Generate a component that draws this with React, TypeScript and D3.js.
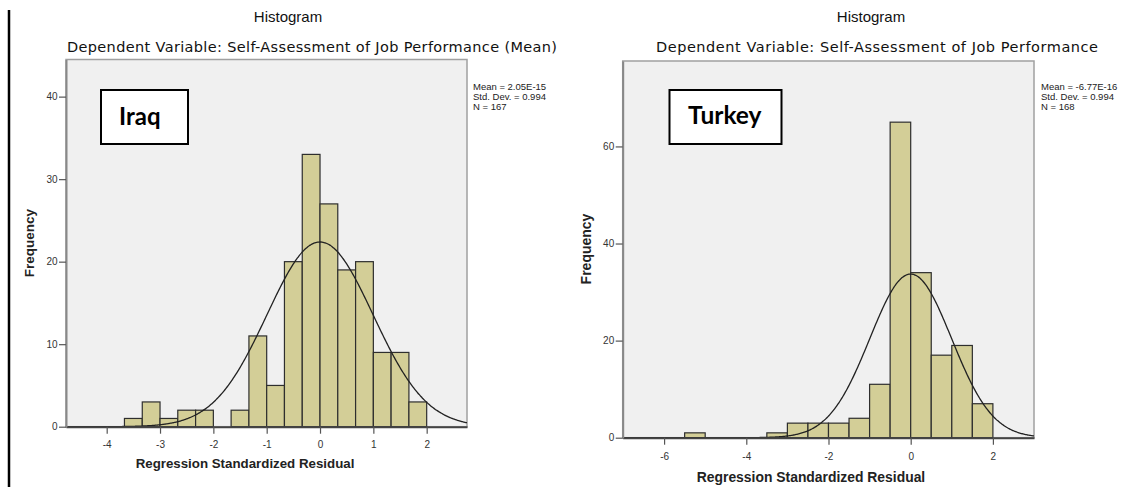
import * as React from 'react';
import { useEffect, useRef } from 'react';
import * as d3 from 'd3';

// Iraq: regression standardized residuals, bins of 1/3
const iraqEdges = [-3.667, -3.333, -3, -2.667, -2.333, -2, -1.667, -1.333, -1, -0.667, -0.333, 0, 0.333, 0.667, 1, 1.333, 1.667, 2];
const iraqCounts = [1, 3, 1, 2, 2, 0, 2, 11, 5, 20, 33, 27, 19, 20, 9, 9, 3];
const iraqStats = ['Mean = 2.05E-15', 'Std. Dev. = 0.994', 'N = 167'];
const iraqXTicks = [-4, -3, -2, -1, 0, 1, 2];
const iraqYTicks = [0, 10, 20, 30, 40];

// Turkey: bins of 0.5
const turkeyEdges = [-5.5, -5, -4.5, -4, -3.5, -3, -2.5, -2, -1.5, -1, -0.5, 0, 0.5, 1, 1.5, 2];
const turkeyCounts = [1, 0, 0, 0, 1, 3, 3, 3, 4, 11, 65, 34, 17, 19, 7];
const turkeyStats = ['Mean = -6.77E-16', 'Std. Dev. = 0.994', 'N = 168'];
const turkeyXTicks = [-6, -4, -2, 0, 2];
const turkeyYTicks = [0, 20, 40, 60];

const TITLE = 'Histogram';
const X_TITLE = 'Regression Standardized Residual';
const Y_TITLE = 'Frequency';

const BAR_FILL = '#d3ce97';
const PLOT_BG = '#f0f0f0';
const FONT = 'Arial, "Liberation Sans", sans-serif';

interface Panel {
  name: string;
  subtitle: string;
  stats: string[];
  edges: number[];
  counts: number[];
  xTicks: number[];
  yTicks: number[];
  mean: number;
  sd: number;
  n: number;
  left: number; right: number; top: number; bottom: number;
  xDomain: [number, number];
  yMax: number;
  titleX: number; subtitleX: number; subtitleW: number; statsX: number;
  box: { x: number; y: number; w: number; h: number; tx: number; ty: number; size: number };
  yTitle: { x: number; y: number; size: number };
  xTitle: { x: number; y: number; size: number };
  tickGap: number;
}

const panels: Panel[] = [
  {
    name: 'Iraq',
    subtitle: 'Dependent Variable: Self-Assessment of Job Performance (Mean)',
    stats: iraqStats, edges: iraqEdges, counts: iraqCounts,
    xTicks: iraqXTicks, yTicks: iraqYTicks,
    mean: 2.05e-15, sd: 0.994, n: 167,
    left: 66, right: 467, top: 59.5, bottom: 426.7,
    xDomain: [-4.763, 2.756], yMax: 44.5,
    titleX: 288, subtitleX: 312, subtitleW: 490, statsX: 473,
    box: { x: 101, y: 90, w: 87, h: 54, tx: 119, ty: 125, size: 24 },
    yTitle: { x: 34, y: 243, size: 13.5 },
    xTitle: { x: 245, y: 468, size: 13.3 },
    tickGap: 17,
  },
  {
    name: 'Turkey',
    subtitle: 'Dependent Variable: Self-Assessment of Job Performance',
    stats: turkeyStats, edges: turkeyEdges, counts: turkeyCounts,
    xTicks: turkeyXTicks, yTicks: turkeyYTicks,
    mean: -6.77e-16, sd: 0.994, n: 168,
    left: 622.7, right: 1034, top: 61, bottom: 437.7,
    xDomain: [-7.007, 3.0], yMax: 77.6,
    titleX: 871, subtitleX: 877, subtitleW: 442, statsX: 1041,
    box: { x: 669.5, y: 90, w: 112, h: 54, tx: 688, ty: 124, size: 24.5 },
    yTitle: { x: 591, y: 249, size: 14 },
    xTitle: { x: 811, y: 481.5, size: 13.9 },
    tickGap: 18,
  },
];

function drawPanel(svg: d3.Selection<SVGSVGElement, unknown, null, undefined>, p: Panel) {
  const x = d3.scaleLinear().domain(p.xDomain).range([p.left, p.right]);
  const y = d3.scaleLinear().domain([0, p.yMax]).range([p.bottom, p.top]);
  const g = svg.append('g');

  // titles
  g.append('text').attr('x', p.titleX).attr('y', 22).attr('text-anchor', 'middle')
    .attr('font-size', 15).attr('font-family', FONT).attr('fill', '#111').text(TITLE);
  g.append('text').attr('x', p.subtitleX).attr('y', 52).attr('text-anchor', 'middle')
    .attr('font-size', 14.5).attr('font-family', '"DejaVu Sans", sans-serif').attr('fill', '#111')
    .attr('textLength', p.subtitleW).attr('lengthAdjust', 'spacing')
    .text(p.subtitle);

  // plot background
  g.append('rect')
    .attr('x', p.left).attr('y', p.top)
    .attr('width', p.right - p.left).attr('height', p.bottom - p.top)
    .attr('fill', PLOT_BG).attr('stroke', '#a0a0a0').attr('stroke-width', 1.5);

  // bars
  const bins = p.counts.map((c, i) => ({ x0: p.edges[i], x1: p.edges[i + 1], c }))
    .filter((b) => b.c > 0);
  g.selectAll('.bar').data(bins).enter().append('rect')
    .attr('x', (d) => x(d.x0))
    .attr('y', (d) => y(d.c))
    .attr('width', (d) => x(d.x1) - x(d.x0))
    .attr('height', (d) => y(0) - y(d.c))
    .attr('fill', BAR_FILL).attr('stroke', '#2e2e2e').attr('stroke-width', 1.2);

  // normal curve
  const bw = p.edges[1] - p.edges[0];
  const pts = d3.range(p.xDomain[0], p.xDomain[1], 0.02).concat([p.xDomain[1]]);
  const dens = (v: number) => p.n * bw * Math.exp(-0.5 * ((v - p.mean) / p.sd) ** 2) / (p.sd * Math.sqrt(2 * Math.PI));
  const line = d3.line<number>().x((v) => x(v)).y((v) => y(dens(v))).curve(d3.curveBasis);
  g.append('path').datum(pts).attr('d', line)
    .attr('fill', 'none').attr('stroke', '#222').attr('stroke-width', 1.3);

  // axes
  const fmt = (d: d3.NumberValue) => String(d);
  const xAxis = d3.axisBottom(x).tickValues(p.xTicks).tickSize(7).tickSizeOuter(0)
    .tickPadding(p.tickGap - 10).tickFormat(fmt);
  const yAxis = d3.axisLeft(y).tickValues(p.yTicks).tickSize(7).tickSizeOuter(0)
    .tickPadding(1.5).tickFormat(fmt);
  const ax = g.append('g').attr('transform', `translate(0,${p.bottom})`).call(xAxis);
  const ay = g.append('g').attr('transform', `translate(${p.left},0)`).call(yAxis);
  [ax, ay].forEach((a) => {
    a.selectAll('text').attr('font-size', 10).attr('font-family', FONT).attr('fill', '#333');
    a.selectAll('line').attr('stroke', '#555').attr('stroke-width', 1.2);
  });
  ay.select('.domain').attr('stroke', '#888').attr('stroke-width', 2);
  ax.select('.domain').attr('stroke', '#444').attr('stroke-width', 2);

  // axis titles
  g.append('text')
    .attr('transform', `translate(${p.yTitle.x},${p.yTitle.y}) rotate(-90)`)
    .attr('text-anchor', 'middle').attr('font-weight', 'bold')
    .attr('font-size', p.yTitle.size).attr('font-family', FONT).attr('fill', '#222')
    .text(Y_TITLE);
  g.append('text').attr('x', p.xTitle.x).attr('y', p.xTitle.y).attr('text-anchor', 'middle')
    .attr('font-weight', 'bold').attr('font-size', p.xTitle.size).attr('font-family', FONT)
    .attr('fill', '#222').text(X_TITLE);

  // stats
  g.selectAll('.stat').data(p.stats).enter().append('text')
    .attr('x', p.statsX).attr('y', (d, i) => 89.5 + i * 10)
    .attr('font-size', 9.5).attr('font-family', FONT).attr('fill', '#222')
    .text((d) => d);

  // country label box
  g.append('rect').attr('x', p.box.x).attr('y', p.box.y).attr('width', p.box.w).attr('height', p.box.h)
    .attr('fill', '#fff').attr('stroke', '#000').attr('stroke-width', 2);
  g.append('text').attr('x', p.box.tx).attr('y', p.box.ty)
    .attr('font-size', p.box.size).attr('font-weight', 'bold').attr('font-family', 'Lato, "Open Sans", sans-serif')
    .text(p.name);
}

export default function App() {
  const ref = useRef<SVGSVGElement>(null);

  useEffect(() => {
    const svg = d3.select(ref.current!);
    svg.selectAll('*').remove();
    svg.append('rect').attr('width', 1131).attr('height', 487).attr('fill', '#fff');
    svg.append('line').attr('x1', 9).attr('x2', 9).attr('y1', 10).attr('y2', 487)
      .attr('stroke', '#000').attr('stroke-width', 2.5);
    panels.forEach((p) => drawPanel(svg, p));
  }, []);

  return (
    <svg ref={ref} width={1131} height={487}
      style={{ position: 'absolute', left: 0, top: 0, display: 'block' }} />
  );
}
